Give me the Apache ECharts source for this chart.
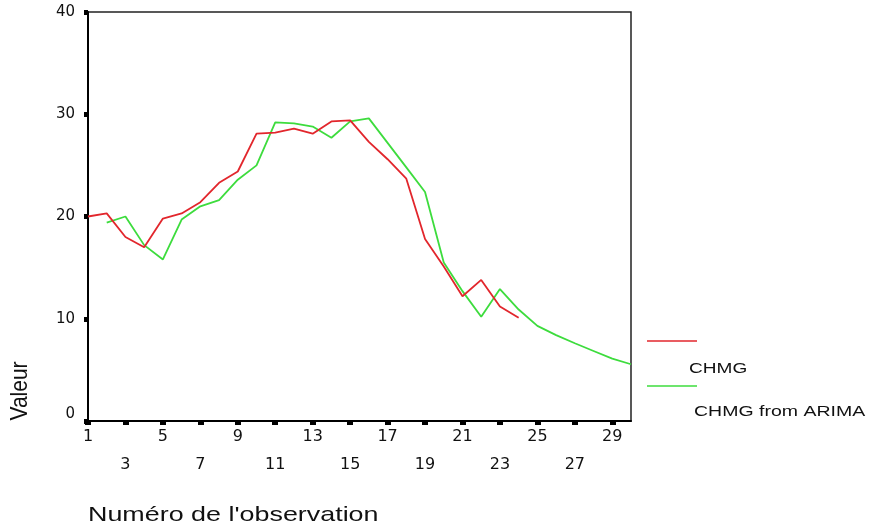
<!DOCTYPE html>
<html>
<head>
<meta charset="utf-8">
<script src="https://cdn.jsdelivr.net/npm/echarts@6/dist/echarts.min.js"></script>
<style>
  html, body { margin: 0; padding: 0; background: #fff; }
  #chart { width: 872px; height: 527px; }
</style>
</head>
<body>
<div id="chart"></div>
<script>
// Observation numbers along the x axis
const observations = ['1','2','3','4','5','6','7','8','9','10','11','12','13','14','15',
  '16','17','18','19','20','21','22','23','24','25','26','27','28','29','30'];

// Observed series (CHMG), observations 1..24
const chmg = [20.0, 20.3, 18.0, 17.0, 19.8, 20.3, 21.4, 23.3, 24.4, 28.1, 28.2, 28.6,
  28.1, 29.3, 29.4, 27.3, 25.6, 23.7, 17.8, 15.1, 12.2, 13.8, 11.2, 10.1];

// Fitted / forecast series from the ARIMA model, observations 2..30
const chmgArima = [null, 19.4, 20.0, 17.2, 15.8, 19.7, 21.0, 21.6, 23.6, 25.0, 29.2, 29.1,
  28.8, 27.7, 29.3, 29.6, 27.2, 24.8, 22.4, 15.5, 12.7, 10.2, 12.9, 10.9, 9.3, 8.4, 7.6,
  6.85, 6.1, 5.55];

// Value axis ticks
const yTicks = [0, 10, 20, 30, 40];

const seriesNames = ['CHMG', 'CHMG from ARIMA'];
const seriesColors = ['#e2262c', '#3ddc3d'];

const chart = echarts.init(document.getElementById('chart'), null, { renderer: 'canvas' });

const numFont = 'DejaVu Sans';
const textFont = 'Liberation Sans';
const inkColor = '#111';

chart.setOption({
  animation: false,
  backgroundColor: '#ffffff',
  grid: {
    left: 88, top: 12, right: 241, bottom: 106,
    show: true, borderColor: '#222', borderWidth: 1.5, backgroundColor: 'transparent'
  },
  xAxis: {
    type: 'category',
    data: observations,
    boundaryGap: false,
    axisLine: { show: true, lineStyle: { color: '#000', width: 2 } },
    axisTick: { show: true, interval: 1, length: 4, lineStyle: { color: '#000', width: 6 } },
    axisLabel: {
      interval: 1,
      margin: 2,
      color: inkColor,
      fontFamily: numFont,
      fontSize: 16,
      lineHeight: 28,
      formatter: function (value, index) {
        return (index / 2) % 2 === 0 ? value : '\n' + value;
      }
    },
    splitLine: { show: false }
  },
  yAxis: {
    type: 'value',
    min: yTicks[0],
    max: yTicks[yTicks.length - 1],
    interval: yTicks[1] - yTicks[0],
    axisLine: { show: true, lineStyle: { color: '#000', width: 2 } },
    axisTick: { show: true, length: 4, lineStyle: { color: '#000', width: 5 } },
    axisLabel: {
      margin: 13,
      color: inkColor,
      fontFamily: numFont,
      fontSize: 15,
      formatter: function (v) { return v === 0 ? '{z|0}' : String(v); },
      rich: {
        z: { fontFamily: numFont, fontSize: 15, color: inkColor, padding: [0, 0, 14, 0] }
      }
    },
    splitLine: { show: false }
  },
  series: [
    {
      name: seriesNames[0],
      type: 'line',
      data: chmg,
      symbol: 'none',
      connectNulls: false,
      lineStyle: { color: seriesColors[0], width: 1.8 },
      z: 3
    },
    {
      name: seriesNames[1],
      type: 'line',
      data: chmgArima,
      symbol: 'none',
      connectNulls: false,
      lineStyle: { color: seriesColors[1], width: 1.8 },
      z: 2
    }
  ],
  graphic: [
    // legend keys
    { type: 'line', shape: { x1: 647, y1: 341, x2: 697, y2: 341 },
      style: { stroke: seriesColors[0], lineWidth: 1.6 } },
    { type: 'text', x: 689, y: 369, scaleX: 1.27,
      style: { text: seriesNames[0], font: '15px "' + textFont + '"', fill: inkColor,
               textAlign: 'left', textVerticalAlign: 'middle', align: 'left', verticalAlign: 'middle' } },
    { type: 'line', shape: { x1: 647, y1: 386, x2: 697, y2: 386 },
      style: { stroke: seriesColors[1], lineWidth: 1.6 } },
    { type: 'text', x: 694, y: 412, scaleX: 1.3,
      style: { text: seriesNames[1], font: '15px "' + textFont + '"', fill: inkColor,
               textAlign: 'left', textVerticalAlign: 'middle', align: 'left', verticalAlign: 'middle' } },
    // axis titles
    { type: 'text', x: 88, y: 515, scaleX: 1.28,
      style: { text: "Numéro de l'observation", font: '21px "' + textFont + '"', fill: inkColor,
               textAlign: 'left', textVerticalAlign: 'middle', align: 'left', verticalAlign: 'middle' } },
    { type: 'text', x: 21, y: 391, rotation: Math.PI / 2, scaleY: 1.1,
      style: { text: 'Valeur', font: '21px "' + textFont + '"', fill: inkColor,
               textAlign: 'center', textVerticalAlign: 'middle', align: 'center', verticalAlign: 'middle' } }
  ]
});
</script>
</body>
</html>
